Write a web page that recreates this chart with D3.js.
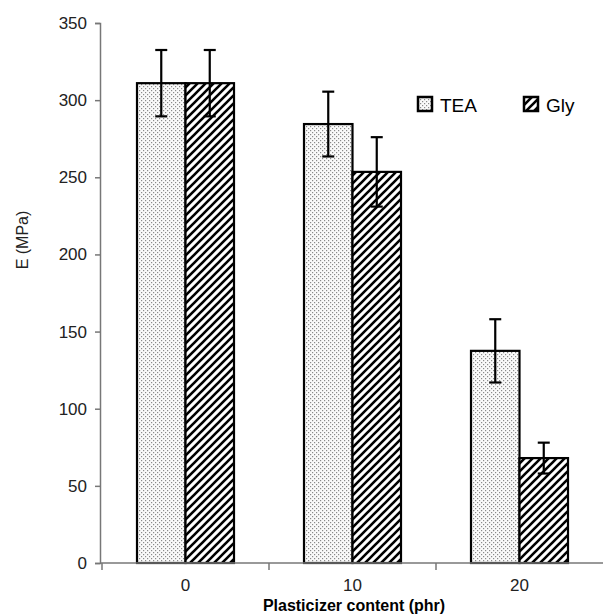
<!DOCTYPE html>
<html>
<head>
<meta charset="utf-8">
<script src="https://cdn.jsdelivr.net/npm/d3@7"></script>
<style>
  body { margin: 0; background: #fff; }
  text { font-family: "Liberation Sans", Arial, sans-serif; }
</style>
</head>
<body>
<svg id="chart" width="603" height="614"></svg>
<script>
// data
var categories = ["0", "10", "20"];
var series = ["TEA", "Gly"];
var teaValues = [311, 284.5, 137.5];
var teaErrors = [21.5, 21, 20.5];
var glyValues = [311, 253.5, 68];
var glyErrors = [21.5, 22.5, 10];
var yTicks = [0, 50, 100, 150, 200, 250, 300, 350];

var rows = categories.map(function(c, i) {
    return [
        {cat: c, s: "TEA", v: teaValues[i], e: teaErrors[i]},
        {cat: c, s: "Gly", v: glyValues[i], e: glyErrors[i]}
    ];
});

var svg = d3.select("#chart");

// fill patterns
var defs = svg.append("defs");
var dots = defs.append("pattern")
    .attr("id", "dots")
    .attr("patternUnits", "userSpaceOnUse")
    .attr("width", 4).attr("height", 4);
dots.append("rect").attr("width", 4).attr("height", 4).attr("fill", "#fafafa");
dots.append("rect").attr("x", 0).attr("y", 0).attr("width", 1.2).attr("height", 1.2).attr("fill", "#8a8a8a");
dots.append("rect").attr("x", 2).attr("y", 2).attr("width", 1.2).attr("height", 1.2).attr("fill", "#8a8a8a");

var hatch = defs.append("pattern")
    .attr("id", "hatch")
    .attr("patternUnits", "userSpaceOnUse")
    .attr("width", 8).attr("height", 8);
hatch.append("rect").attr("width", 8).attr("height", 8).attr("fill", "#fff");
hatch.append("path")
    .attr("d", "M-2,2 l4,-4 M0,8 l8,-8 M6,10 l4,-4")
    .attr("stroke", "#000")
    .attr("stroke-width", 2.6);

var fills = {TEA: "url(#dots)", Gly: "url(#hatch)"};

// scales
var y = d3.scaleLinear().domain([0, 350]).range([563, 23]);
var x = d3.scaleBand().domain(categories).range([102, 603]);
var xInner = d3.scaleBand().domain(series).range([0, 97]);
var groupOffset = (x.bandwidth() - 97) / 2;

// y axis
var yAxis = svg.append("g")
    .attr("transform", "translate(100,0)")
    .call(d3.axisLeft(y).tickValues(yTicks).tickSize(5).tickPadding(8));
yAxis.select(".domain").attr("stroke", "#777").attr("stroke-width", 1.5);
yAxis.selectAll(".tick line").attr("stroke", "#777").attr("stroke-width", 1.5);
yAxis.selectAll(".tick text")
    .attr("font-size", 17)
    .attr("fill", "#222")
    .style("font-family", "Liberation Sans, Arial, sans-serif");

// bars
var groups = svg.selectAll(".grp")
    .data(rows)
    .enter().append("g")
    .attr("class", "grp")
    .attr("transform", function(d) { return "translate(" + (x(d[0].cat) + groupOffset) + ",0)"; });

groups.selectAll("rect")
    .data(function(d) { return d; })
    .enter().append("rect")
    .attr("x", function(d) { return xInner(d.s); })
    .attr("y", function(d) { return y(d.v); })
    .attr("width", xInner.bandwidth())
    .attr("height", function(d) { return y(0) - y(d.v); })
    .attr("fill", function(d) { return fills[d.s]; })
    .attr("stroke", "#000")
    .attr("stroke-width", 2.2);

// error bars
var errs = groups.selectAll(".err")
    .data(function(d) { return d; })
    .enter().append("g")
    .attr("class", "err")
    .attr("stroke", "#000")
    .attr("stroke-width", 2.2);
errs.append("line")
    .attr("x1", function(d) { return xInner(d.s) + xInner.bandwidth() / 2; })
    .attr("x2", function(d) { return xInner(d.s) + xInner.bandwidth() / 2; })
    .attr("y1", function(d) { return y(d.v + d.e); })
    .attr("y2", function(d) { return y(d.v - d.e); });
errs.selectAll(".cap")
    .data(function(d) { return [d.v + d.e, d.v - d.e].map(function(v) { return {s: d.s, v: v}; }); })
    .enter().append("line")
    .attr("x1", function(d) { return xInner(d.s) + xInner.bandwidth() / 2 - 6; })
    .attr("x2", function(d) { return xInner(d.s) + xInner.bandwidth() / 2 + 6; })
    .attr("y1", function(d) { return y(d.v); })
    .attr("y2", function(d) { return y(d.v); });

// x axis: line, boundary ticks, centred labels
svg.append("line")
    .attr("x1", 100).attr("x2", 603)
    .attr("y1", y(0)).attr("y2", y(0))
    .attr("stroke", "#777").attr("stroke-width", 1.5);
svg.selectAll(".xtick")
    .data(categories)
    .enter().append("line")
    .attr("x1", function(d) { return x(d); })
    .attr("x2", function(d) { return x(d); })
    .attr("y1", y(0)).attr("y2", y(0) + 7)
    .attr("stroke", "#777").attr("stroke-width", 1.5);
svg.selectAll(".xlab")
    .data(categories)
    .enter().append("text")
    .attr("x", function(d) { return x(d) + x.bandwidth() / 2; })
    .attr("y", 591)
    .attr("text-anchor", "middle")
    .attr("font-size", 17)
    .attr("fill", "#222")
    .text(function(d) { return d; });

// axis titles
svg.append("text")
    .attr("x", 354).attr("y", 611)
    .attr("text-anchor", "middle")
    .attr("font-size", 16)
    .attr("font-weight", "bold")
    .text("Plasticizer content (phr)");
svg.append("text")
    .attr("transform", "translate(28,240) rotate(-90)")
    .attr("text-anchor", "middle")
    .attr("font-size", 16)
    .attr("fill", "#222")
    .text("E (MPa)");

// legend
var legendX = [418, 524];
var legend = svg.selectAll(".leg")
    .data(series)
    .enter().append("g")
    .attr("class", "leg")
    .attr("transform", function(d, i) { return "translate(" + legendX[i] + ",97)"; });
legend.append("rect")
    .attr("width", 14).attr("height", 14)
    .attr("fill", function(d) { return fills[d]; })
    .attr("stroke", "#000")
    .attr("stroke-width", 2.5);
legend.append("text")
    .attr("x", 22).attr("y", 15)
    .attr("font-size", 19)
    .text(function(d) { return d; });
</script>
</body>
</html>
